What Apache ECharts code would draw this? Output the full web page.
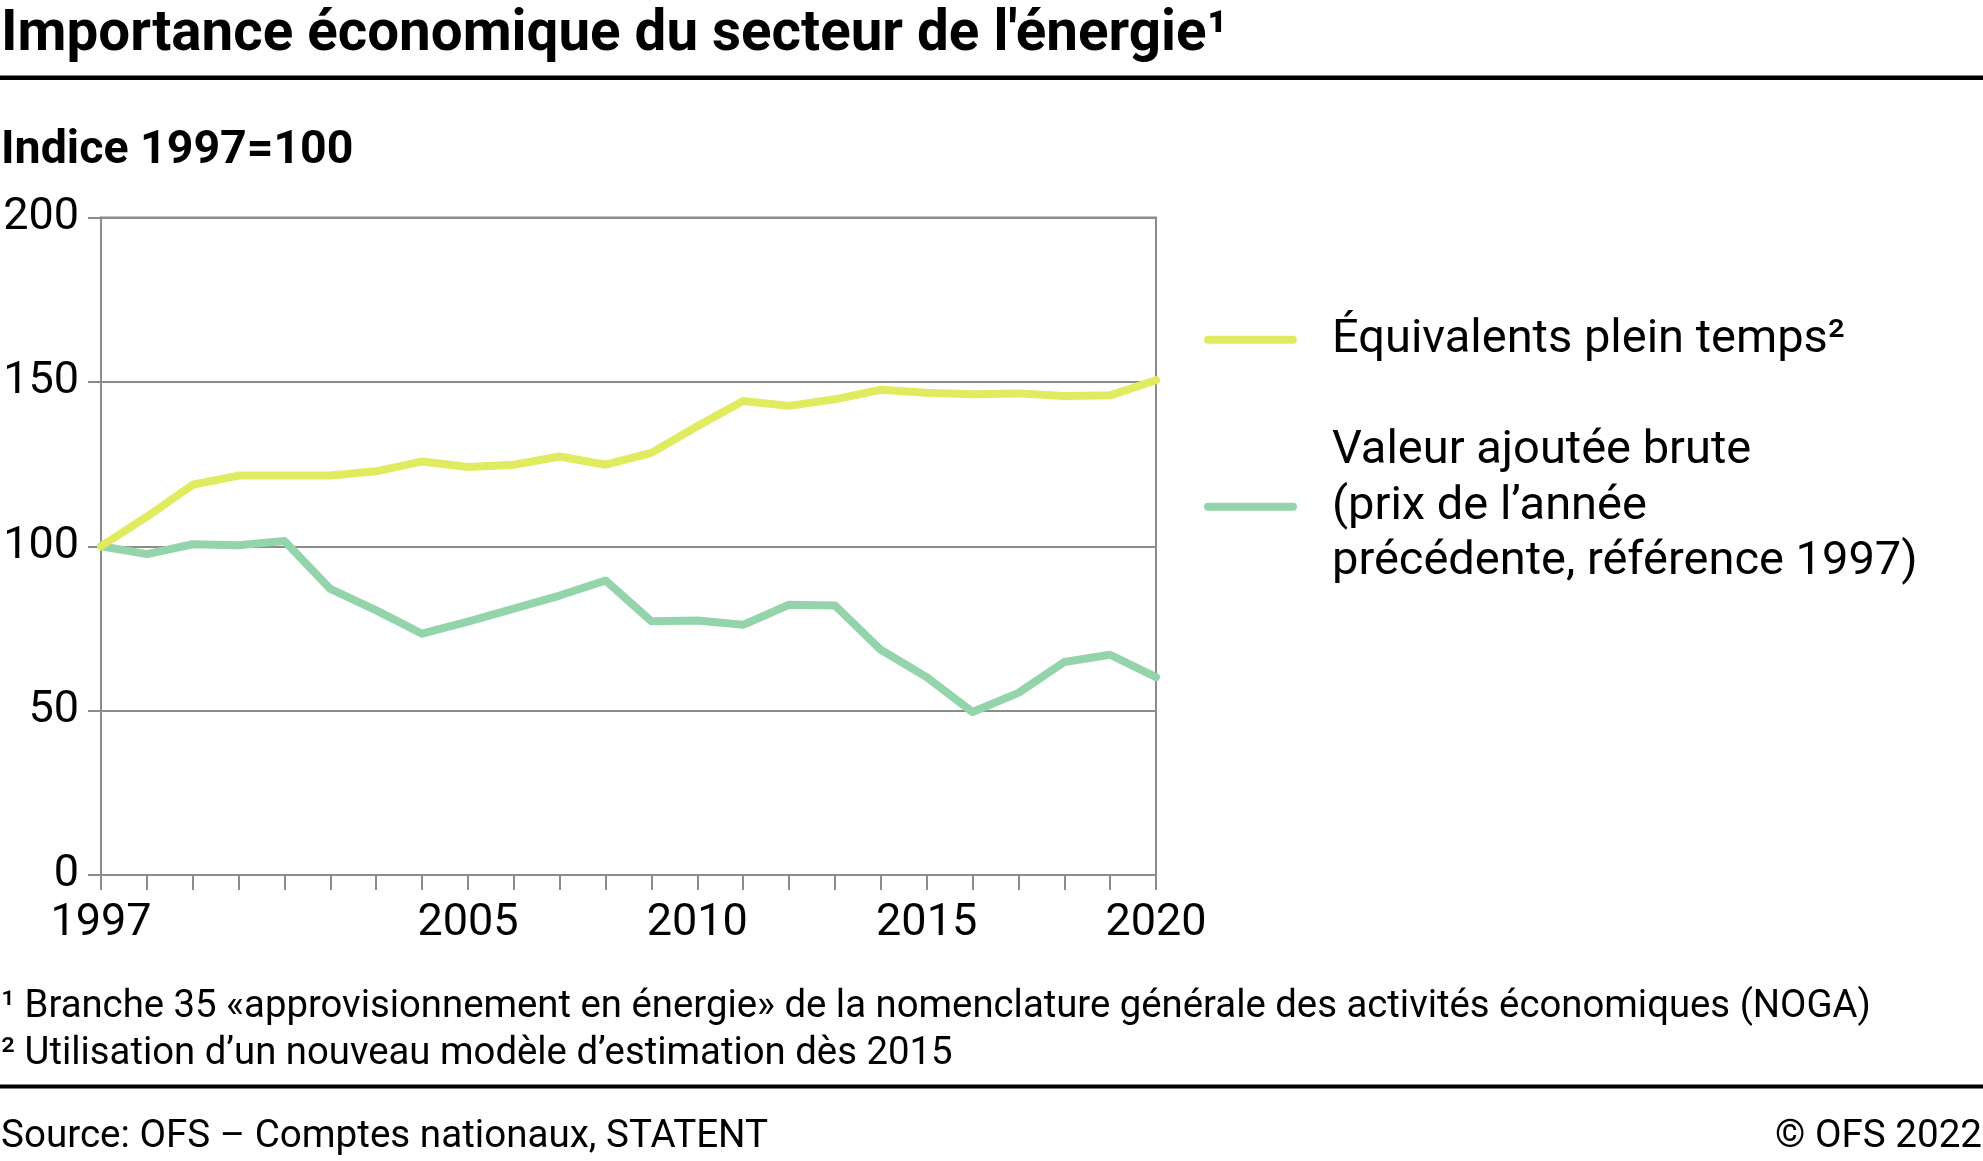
<!DOCTYPE html>
<html>
<head>
<meta charset="utf-8">
<script src="https://cdn.jsdelivr.net/npm/echarts@6/dist/echarts.min.js"></script>
<style>
html,body{margin:0;padding:0;background:#fff;}
#chart{width:1983px;height:1161px;}
</style>
</head>
<body>
<div id="chart"></div>
<script>
// ---- data ----
const years = [1997,1998,1999,2000,2001,2002,2003,2004,2005,2006,2007,2008,2009,2010,2011,2012,2013,2014,2015,2016,2017,2018,2019,2020];
const etp = [100,109,118.7,121.5,121.5,121.5,122.8,125.8,124.1,124.8,127.3,124.8,128.4,136.5,144.2,142.7,144.7,147.6,146.7,146.2,146.5,145.7,145.9,150.5];
const vab = [100,97.6,100.6,100.3,101.6,87.0,80.5,73.4,77.1,81.0,85.0,89.6,77.2,77.4,76.1,82.2,82.0,68.5,60.2,49.6,55.4,64.8,67.0,60.2];
const xLabelYears = [1997,2005,2010,2015,2020];
const yTicks = [0,50,100,150,200];
const seriesNames = ['Équivalents plein temps²', 'Valeur ajoutée brute\n(prix de l’année\nprécédente, référence 1997)'];
const titleText = 'Importance économique du secteur de l\'énergie¹';
const subtitleText = 'Indice 1997=100';
const footnotes = ['¹ Branche 35 «approvisionnement en énergie» de la nomenclature générale des activités économiques (NOGA)', '² Utilisation d’un nouveau modèle d’estimation dès 2015'];
const sourceText = 'Source: OFS – Comptes nationaux, STATENT';
const copyrightText = '© OFS 2022';

const FONT = 'Roboto, "Noto Sans", sans-serif';
const GRAY = '#8c8c8c';
const YELLOW = '#e1eb5f';
const GREEN = '#93d4ab';

const chart = echarts.init(document.getElementById('chart'), null, {renderer:'canvas'});

function txt(x, y, text, size, weight, align) {
  return {type:'text', x:x, y:y, silent:true,
    style:{text:text, fontSize:size, fontWeight:weight||'normal', fontFamily:FONT, fill:'#000',
      align:align||'left', verticalAlign:'middle'}};
}

const iconPath = 'path://M4,0 L89,0 A4,4 0 0 1 89,8 L4,8 A4,4 0 0 1 4,0 Z';

const option = {
  backgroundColor:'#fff',
  animation:false,
  grid:{left:101, right:827, top:217.5, bottom:286, show:true, borderColor:GRAY, borderWidth:2, containLabel:false},
  xAxis:{type:'value', min:1997, max:2020, interval:1,
    axisLine:{show:true, lineStyle:{color:GRAY, width:2}},
    axisTick:{show:true, length:15, lineStyle:{color:GRAY, width:2}},
    splitLine:{show:false},
    axisLabel:{show:true, margin:26, fontSize:45, color:'#000', fontFamily:FONT, showMinLabel:true, showMaxLabel:true,
      formatter:function(v){ return xLabelYears.indexOf(v) >= 0 ? String(v) : ''; }}
  },
  yAxis:{type:'value', min:0, max:200, interval:50,
    axisLine:{show:true, lineStyle:{color:GRAY, width:2}},
    axisTick:{show:true, length:13, lineStyle:{color:GRAY, width:2}},
    splitLine:{show:true, lineStyle:{color:GRAY, width:2}},
    axisLabel:{margin:22, fontSize:45, color:'#000', fontFamily:FONT,
      formatter:function(v){ return yTicks.indexOf(v) >= 0 ? String(v) : ''; }}
  },
  legend:{orient:'vertical', left:1199, top:307, itemGap:56, itemWidth:93, itemHeight:8,
    selectedMode:false, icon:iconPath,
    textStyle:{fontSize:47, lineHeight:55.5, color:'#000', fontFamily:FONT, padding:[0,0,0,30]},
    data:[{name:seriesNames[0], icon:iconPath, itemStyle:{color:YELLOW}}, {name:seriesNames[1], icon:iconPath, itemStyle:{color:GREEN}}]
  },
  series:[
    {name:seriesNames[1], type:'line', data:years.map((y,i)=>[y,vab[i]]), showSymbol:false, symbol:'none',
      lineStyle:{color:GREEN, width:8, cap:'round', join:'round'}, itemStyle:{color:GREEN}, z:2},
    {name:seriesNames[0], type:'line', data:years.map((y,i)=>[y,etp[i]]), showSymbol:false, symbol:'none',
      lineStyle:{color:YELLOW, width:8, cap:'round', join:'round'}, itemStyle:{color:YELLOW}, z:3}
  ],
  graphic:{elements:[
    txt(1, 36, titleText, 56.5, 'bold'),
    {type:'rect', silent:true, shape:{x:0, y:75.5, width:1983, height:4.5}, style:{fill:'#000'}},
    txt(1, 151, subtitleText, 46.5, 'bold'),
    txt(1, 1007, footnotes[0], 38.3),
    txt(1, 1054, footnotes[1], 38.3),
    {type:'rect', silent:true, shape:{x:0, y:1084.5, width:1983, height:4}, style:{fill:'#000'}},
    txt(1, 1137, sourceText, 38.6),
    txt(1982, 1137, copyrightText, 38.6, 'normal', 'right')
  ]}
};
chart.setOption(option);
</script>
</body>
</html>
